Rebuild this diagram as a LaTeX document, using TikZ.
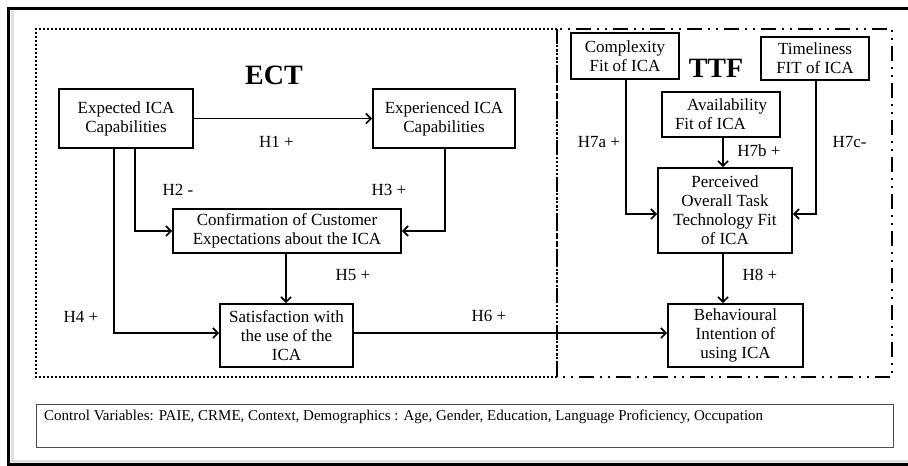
\documentclass[tikz,border=0pt]{standalone}
\usepackage{fontspec}
\setmainfont{Liberation Serif}
\usetikzlibrary{arrows.meta}

\tikzset{
  box/.style={draw, line width=1.7pt, inner sep=0pt, align=center,
    font=\fontsize{17}{19}\selectfont},
  hlabel/.style={inner sep=0pt, font=\fontsize{17}{19}\selectfont},
  arr/.style={line width=1.7pt, -{Straight Barb[length=5pt,width=10pt,line width=1.7pt]}},
  title/.style={inner sep=0pt, font=\fontsize{28}{30}\selectfont\bfseries},
  ectframe/.style={line width=1.7pt, dash pattern=on 2pt off 2pt},
  ttfframe/.style={line width=1.8pt,
    dash pattern=on 15pt off 6pt on 2pt off 6pt on 2pt off 6pt},
}

\begin{document}
\begin{tikzpicture}[x=1pt,y=-1pt]
  \useasboundingbox (0,0) rectangle (908,466);

  % window frame
  \fill[black!12] (10.5,10) rectangle (13.5,463);
  \fill[black!12] (10.5,459.5) rectangle (908,463);
  \draw[line width=3pt] (908,8.5) -- (8.5,8.5) -- (8.5,464.5) -- (908,464.5);

  % theory frames
  \draw[ectframe] (557,29) -- (36,29) -- (36,377) -- (557,377) -- cycle;
  \draw[ttfframe] (557,29) rectangle (892,377);

  % titles
  \node[title] (ect) at (274,75) {ECT};
  \node[title] (ttf) at (716,68) {TTF};

  % ECT constructs
  \node[box, minimum width=134pt, minimum height=59pt] (exp) at (126,118.5)
    {Expected ICA\\Capabilities};
  \node[box, minimum width=142pt, minimum height=59pt] (expd) at (444,118.5)
    {Experienced ICA\\Capabilities};
  \node[box, minimum width=228pt, minimum height=44pt] (conf) at (287,231)
    {Confirmation of Customer\\Expectations about the ICA};
  \node[box, minimum width=133pt, minimum height=63pt] (sat) at (286.5,335.5)
    {Satisfaction with\\the use of the\\ICA};

  % TTF constructs
  \node[box, minimum width=108pt, minimum height=46pt] (comp) at (625,56)
    {Complexity\\Fit of ICA};
  \node[box, minimum width=108pt, minimum height=43pt] (time) at (815,58.5)
    {Timeliness\\FIT of ICA};
  \node[box, minimum width=118pt, minimum height=45pt, align=left] (avail) at (721,114.5)
    {\hspace*{12pt}Availability\\Fit of ICA};
  \node[box, minimum width=134pt, minimum height=85pt] (perc) at (725,210.5)
    {Perceived\\Overall Task\\Technology Fit\\of ICA};
  \node[box, minimum width=135pt, minimum height=63pt] (beh) at (735.5,335.5)
    {Behavioural\\Intention of\\using ICA};

  % control variables
  \node[draw=black!70, line width=1pt, minimum width=857pt, minimum height=43pt,
    inner sep=0pt] (ctrl) at (464.5,425.5) {};
  \node[anchor=base west, inner sep=0pt, font=\fontsize{15}{17}\selectfont]
    (ctrltext) at (44,420)
    {Control Variables: PAIE, CRME, Context, Demographics : Age, Gender, Education, Language Proficiency, Occupation};

  % hypotheses
  \draw[arr] (exp.east) -- (expd.west);
  \draw[arr] ([xshift=9pt]exp.south) |- (conf.west);
  \draw[arr] ([xshift=1pt]expd.south) |- (conf.east);
  \draw[arr] ([xshift=-12pt]exp.south) |- ([yshift=2.5pt]sat.west);
  \draw[arr] ([xshift=-1pt]conf.south) -- ([xshift=-1pt]conf.south |- sat.north);
  \draw[arr] ([yshift=2.5pt]sat.east) -- ([yshift=2.5pt]beh.west);
  \draw[arr] ([xshift=1pt]comp.south) |- ([yshift=-3.5pt]perc.west);
  \draw[arr] ([xshift=2pt]avail.south) -- ([xshift=2pt]avail.south |- perc.north);
  \draw[arr] ([xshift=1pt]time.south) |- ([yshift=-3.5pt]perc.east);
  \draw[arr] ([xshift=-2pt]perc.south) -- ([xshift=-2pt]perc.south |- beh.north);

  % hypothesis labels
  \node[hlabel] (h1) at (276.5,142) {H1 +};
  \node[hlabel] (h2) at (178,190) {H2 -};
  \node[hlabel] (h3) at (389,190) {H3 +};
  \node[hlabel] (h4) at (81,317) {H4 +};
  \node[hlabel] (h5) at (353,275) {H5 +};
  \node[hlabel] (h6) at (489,316) {H6 +};
  \node[hlabel] (h7a) at (599,142) {H7a +};
  \node[hlabel] (h7b) at (759,151) {H7b +};
  \node[hlabel] (h7c) at (849.5,142) {H7c-};
  \node[hlabel] (h8) at (760,275) {H8 +};
\end{tikzpicture}
\end{document}
